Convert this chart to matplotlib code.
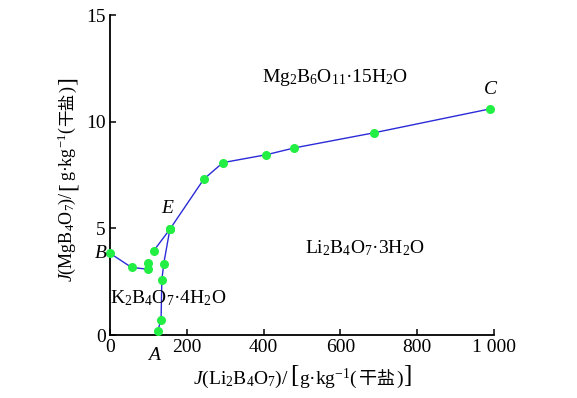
import matplotlib
matplotlib.use("Agg")
import matplotlib.pyplot as plt

plt.rcParams['font.family'] = ['Liberation Serif', 'Noto Sans CJK SC']
plt.rcParams['mathtext.fontset'] = 'custom'
plt.rcParams['mathtext.rm'] = 'Liberation Serif'
plt.rcParams['mathtext.it'] = 'Liberation Serif:italic'

# data (g/kg dry salt)
branch_B_x = [0, 56, 99]
branch_B_y = [3.83, 3.17, 3.08]
branch_pE_x = [114, 156]
branch_pE_y = [3.95, 4.96]
branch_EA_x = [156, 140, 135, 133, 124]
branch_EA_y = [4.96, 3.35, 2.58, 0.70, 0.19]
branch_EC_x = [156, 244, 294, 407, 480, 688, 990]
branch_EC_y = [4.96, 7.30, 8.08, 8.45, 8.77, 9.48, 10.6]
extra_x = [99]
extra_y = [3.39]

xticks = [0, 200, 400, 600, 800, 1000]
xticklabels = ['0', '200', '400', '600', '800', '1 000']
yticks = [0, 5, 10, 15]

W, H, DPI = 577, 398, 100
fig = plt.figure(figsize=(W / DPI, H / DPI), dpi=DPI)
ax = fig.add_axes([110 / W, 1 - 335 / H, (494 - 110) / W, (335 - 15) / H])

lc = '#2b2bd8'
mc = '#22ee44'
for xs, ys in [(branch_B_x, branch_B_y), (branch_pE_x, branch_pE_y),
               (branch_EA_x, branch_EA_y), (branch_EC_x, branch_EC_y)]:
    ax.plot(xs, ys, color=lc, lw=1.0, zorder=2)
allx = branch_B_x + branch_pE_x + branch_EA_x + branch_EC_x + extra_x
ally = branch_B_y + branch_pE_y + branch_EA_y + branch_EC_y + extra_y
ax.plot(allx, ally, 'o', color=mc, ms=6.5, mec='none', zorder=3, clip_on=False)

ax.set_xlim(0, 1000)
ax.set_ylim(0, 15)
ax.set_xticks(xticks)
ax.set_xticklabels(xticklabels)
ax.set_yticks(yticks)
for s in ['top', 'right']:
    ax.spines[s].set_visible(False)
for s in ['left', 'bottom']:
    ax.spines[s].set_linewidth(1.3)
ax.tick_params(direction='in', length=4, width=1.1, labelsize=14, pad=3)

fs = 14
# point labels
ax.text(-8, 3.83, 'B', style='italic', fontsize=fs, ha='right', va='center')
ax.text(148, 5.55, 'E', style='italic', fontsize=fs, ha='center', va='bottom')
ax.text(990, 11.1, 'C', style='italic', fontsize=fs, ha='center', va='bottom')
ax.text(115, -0.55, 'A', style='italic', fontsize=fs, ha='center', va='top')

# region labels
ax.text(0.585, 0.805, r'Mg$_2$B$_6$O$_{11}$·15H$_2$O', transform=ax.transAxes,
        fontsize=fs, ha='center', va='center')
ax.text(0.665, 0.27, r'Li$_2$B$_4$O$_7$·3H$_2$O', transform=ax.transAxes,
        fontsize=fs, ha='center', va='center')
ax.text(0.0, 0.115, r'K$_2$B$_4$O$_7$·4H$_2$O', transform=ax.transAxes,
        fontsize=fs, ha='left', va='center')

# composite axis labels
def place_pieces(pieces, cx, cy, rotation=0):
    texts = []
    for s, fam, size, dy in pieces:
        t = fig.text(0, 0, s, fontsize=size, family=fam, rotation=rotation,
                     ha='left', va='baseline', rotation_mode='anchor')
        texts.append((t, dy))
    fig.canvas.draw()
    r = fig.canvas.get_renderer()
    lens = []
    for t, dy in texts:
        bb = t.get_window_extent(r)
        lens.append(bb.height if rotation == 90 else bb.width)
    total = sum(lens)
    pos = -total / 2
    for (t, dy), L in zip(texts, lens):
        if rotation == 90:
            t.set_position(((cx + dy) / W, (H - cy + pos) / H))
        else:
            t.set_position(((cx + pos) / W, (H - cy - dy) / H))
        pos += L + 1

serif = ['Liberation Serif']
cjk = ['Noto Sans CJK SC']
place_pieces([(r'$J$(Li$_2$B$_4$O$_7$)/ ', serif, fs, 0), ('[', serif, 18, -1.5),
              (r'g·kg$^{\mathrm{-1}}$(', serif, fs, 0), ('干盐', cjk, 13, 0),
              (')', serif, fs, 0), (']', serif, 18, -1.5)],
             300, 384)
yfs = 13
place_pieces([(r'$J$(MgB$_4$O$_7$)/ ', serif, yfs, 0), ('[', serif, 17, 1.5),
              (r'g·kg$^{\mathrm{-1}}$(', serif, yfs, 0), ('干盐', cjk, 12, 0),
              (')', serif, yfs, 0), (']', serif, 17, 1.5)],
             72, 182, rotation=90)

fig.savefig('out.png', dpi=DPI)
